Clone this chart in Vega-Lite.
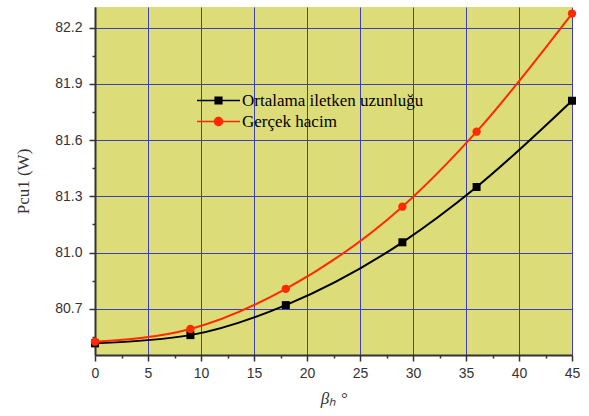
{
  "$schema": "https://vega.github.io/schema/vega-lite/v6.json",
  "width": 477,
  "height": 348,
  "autosize": {"type": "none"},
  "padding": {"left": 95, "top": 7, "right": 17, "bottom": 61},
  "background": "white",
  "config": {"view": {"fill": "#dcdc78", "stroke": null}, "font": "Liberation Sans"},
  "data": {"values": [
    {"beta": 0, "P": 80.516, "series": "Ortalama iletken uzunluğu"},
    {"beta": 9, "P": 80.56, "series": "Ortalama iletken uzunluğu"},
    {"beta": 18, "P": 80.72, "series": "Ortalama iletken uzunluğu"},
    {"beta": 29, "P": 81.055, "series": "Ortalama iletken uzunluğu"},
    {"beta": 36, "P": 81.35, "series": "Ortalama iletken uzunluğu"},
    {"beta": 45, "P": 81.81, "series": "Ortalama iletken uzunluğu"},
    {"beta": 0, "P": 80.525, "series": "Gerçek hacim"},
    {"beta": 9, "P": 80.593, "series": "Gerçek hacim"},
    {"beta": 18, "P": 80.807, "series": "Gerçek hacim"},
    {"beta": 29, "P": 81.245, "series": "Gerçek hacim"},
    {"beta": 36, "P": 81.645, "series": "Gerçek hacim"},
    {"beta": 45, "P": 82.275, "series": "Gerçek hacim"}
  ]},
  "encoding": {
    "x": {
      "field": "beta", "type": "quantitative",
      "scale": {"domain": [0, 45], "nice": false, "zero": false},
      "axis": {
        "values": [0, 2.5, 5, 7.5, 10, 12.5, 15, 17.5, 20, 22.5, 25, 27.5, 30, 32.5, 35, 37.5, 40, 42.5, 45],
        "labelExpr": "datum.value % 5 === 0 ? datum.label : ''",
        "labelOverlap": false,
        "labelFlush": false,
        "tickSize": {"condition": {"test": "datum.value % 5 === 0", "value": 6}, "value": 3},
        "gridOpacity": {"condition": {"test": "datum.value % 5 === 0", "value": 1}, "value": 0},
        "grid": true, "gridColor": "#3e3eb8", "gridWidth": 1,
        "domainColor": "#333333", "domainWidth": 2, "tickColor": "#333333", "tickWidth": 1.5,
        "labelFont": "Liberation Sans", "labelFontSize": 14, "labelColor": "#333333", "labelPadding": 5,
        "title": "βₕ °", "titleFont": "Liberation Serif", "titleFontStyle": "italic", "titleFontWeight": "normal",
        "titleFontSize": 17, "titleColor": "#333333", "titlePadding": 10
      }
    },
    "y": {
      "field": "P", "type": "quantitative",
      "scale": {"domain": [80.454, 82.31], "nice": false, "zero": false},
      "axis": {
        "values": [80.55, 80.7, 80.85, 81.0, 81.15, 81.3, 81.45, 81.6, 81.75, 81.9, 82.05, 82.2],
        "format": ".1f",
        "labelExpr": "round(datum.value * 100) % 30 === 0 ? datum.label : ''",
        "labelOverlap": false,
        "labelFlush": false,
        "tickSize": {"condition": {"test": "round(datum.value * 100) % 30 === 0", "value": 6}, "value": 3},
        "gridOpacity": {"condition": {"test": "round(datum.value * 100) % 30 === 0", "value": 1}, "value": 0},
        "grid": true, "gridColor": "#3e3eb8", "gridWidth": 1,
        "domainColor": "#333333", "domainWidth": 2, "tickColor": "#333333", "tickWidth": 1.5,
        "labelFont": "Liberation Sans", "labelFontSize": 14, "labelColor": "#333333", "labelPadding": 7,
        "title": "Pcu1 (W)", "titleFont": "Liberation Serif", "titleFontWeight": "normal",
        "titleFontSize": 17, "titleColor": "#333333", "titlePadding": 22
      }
    },
    "color": {
      "field": "series", "type": "nominal",
      "scale": {"domain": ["Ortalama iletken uzunluğu", "Gerçek hacim"], "range": ["#000000", "#ff2a00"]},
      "legend": {
        "title": null, "orient": "none", "legendX": 102, "legendY": 83,
        "labelFont": "Liberation Serif", "labelFontSize": 17, "labelColor": "#000000", "labelLimit": 400,
        "symbolSize": 1849, "symbolType": "M-1,-0.035H1V0.035H-1ZM-0.19,-0.19H0.19V0.19H-0.19Z",
        "symbolStrokeWidth": 0, "symbolOpacity": 1,
        "clipHeight": 21, "labelOffset": 2, "padding": 0, "rowPadding": 0,
        "encode": {"symbols": {"update": {
          "shape": {"signal": "datum.value === 'Gerçek hacim' ? 'M-1,-0.035H1V0.035H-1ZM0.22,0A0.22,0.22 0 1 1 -0.22,0A0.22,0.22 0 1 1 0.22,0Z' : 'M-1,-0.035H1V0.035H-1ZM-0.19,-0.19H0.19V0.19H-0.19Z'"},
          "fill": {"signal": "datum.value === 'Gerçek hacim' ? '#ff2a00' : '#000000'"},
          "strokeWidth": {"value": 0}
        }}}
      }
    }
  },
  "layer": [
    {"mark": {"type": "line", "interpolate": "monotone", "strokeWidth": 2}},
    {"transform": [{"filter": "datum.series === 'Ortalama iletken uzunluğu'"}],
     "mark": {"type": "point", "filled": true, "size": 64, "opacity": 1, "shape": "square"}},
    {"transform": [{"filter": "datum.series === 'Gerçek hacim'"}],
     "mark": {"type": "point", "filled": true, "size": 70, "opacity": 1, "shape": "circle"}}
  ]
}
